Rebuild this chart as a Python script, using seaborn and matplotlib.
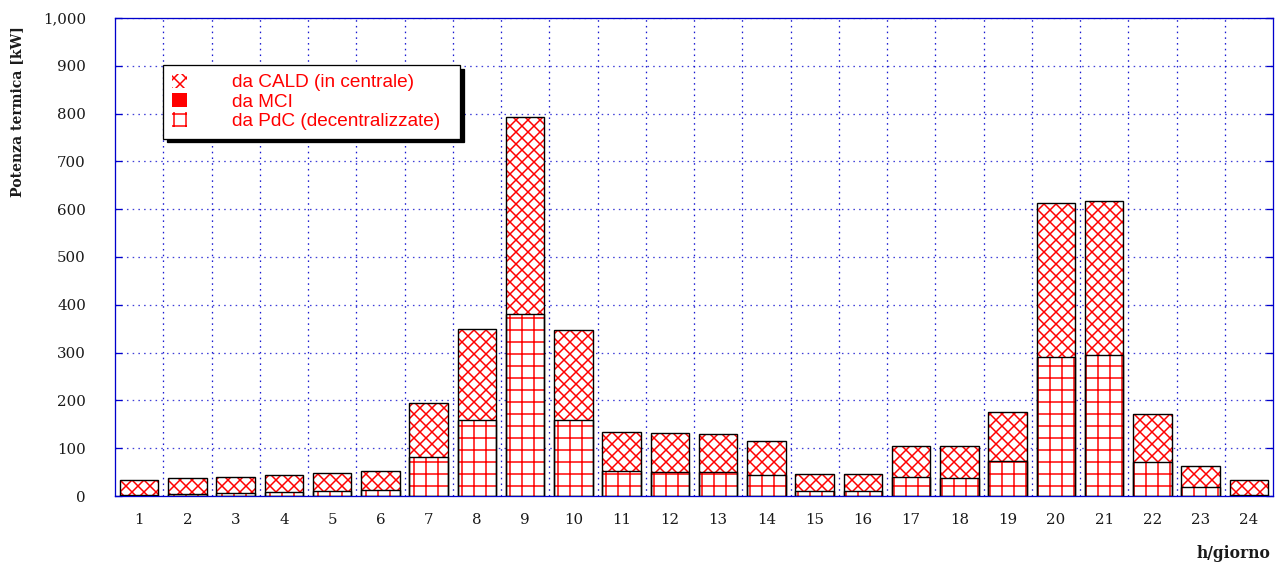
import matplotlib
matplotlib.use("Agg")
import matplotlib.pyplot as plt
from matplotlib.patches import Patch
from matplotlib.ticker import FuncFormatter, MultipleLocator, FixedLocator
import numpy as np
import seaborn as sns

# Hourly thermal power [kW] by source
hours = [str(h) for h in range(1, 25)]
pdc = [2, 5, 7, 9, 10, 13, 82, 160, 381, 158, 52, 51,
       51, 43, 10, 10, 40, 38, 73, 291, 295, 71, 19, 2]
mci = [0] * 24
cald = [31, 33, 33, 35, 38, 39, 112, 189, 411, 189, 81, 80,
        79, 72, 37, 37, 65, 66, 102, 322, 322, 100, 44, 31]

series_labels = ["da CALD (in centrale)", "da MCI", "da PdC (decentralizzate)"]

pdc_a = np.array(pdc, dtype=float)
mci_a = np.array(mci, dtype=float)
cald_a = np.array(cald, dtype=float)
lower = pdc_a + mci_a
total = lower + cald_a

sns.set_theme(style="white")
plt.rcParams["hatch.linewidth"] = 1.5
plt.rcParams["font.family"] = ["DejaVu Serif"]

W, H, DPI = 1287, 572, 72
fig = plt.figure(figsize=(W / DPI, H / DPI), dpi=DPI)
ax = fig.add_axes([115 / W, 1 - 496 / H, (1273 - 115) / W, (496 - 18) / H])

RED = "#ff0000"
BLUE = "#0000cc"

# Stacked layers: full height (CALD hatch), then MCI, then PdC on top of them
sns.barplot(x=hours, y=total, color="white", edgecolor=RED, hatch="xx",
            linewidth=0, width=0.8, saturation=1, ax=ax, zorder=2)
sns.barplot(x=hours, y=lower, color=RED, linewidth=0, width=0.8,
            saturation=1, ax=ax, zorder=3)
sns.barplot(x=hours, y=pdc_a, color="white", edgecolor=RED, hatch="+",
            linewidth=0, width=0.8, saturation=1, ax=ax, zorder=4)
# Black outlines for each segment
for vals in (total, pdc_a):
    sns.barplot(x=hours, y=vals, fill=False, color="black", linewidth=1.4,
                width=0.8, ax=ax, zorder=5)

ax.set_xlim(-0.5, 23.5)
ax.set_ylim(0, 1000)
ax.yaxis.set_major_locator(MultipleLocator(100))
ax.yaxis.set_major_formatter(FuncFormatter(lambda v, p: f"{int(v):,}"))
ax.xaxis.set_minor_locator(FixedLocator(np.arange(0.5, 23.5, 1.0)))

ax.grid(False)
ax.yaxis.grid(True, which="major", color=BLUE, linestyle=(0, (1.2, 3.2)),
              linewidth=1.3, alpha=0.75, zorder=0)
ax.xaxis.grid(True, which="minor", color=BLUE, linestyle=(0, (1.2, 3.2)),
              linewidth=1.3, alpha=0.9, zorder=0)
ax.set_axisbelow(True)

for s in ax.spines.values():
    s.set_color(BLUE)
    s.set_linewidth(1.3)

ax.tick_params(axis="y", which="major", direction="in", length=7, color=BLUE,
               width=1.3, left=True, right=True, labelsize=15, pad=29,
               labelcolor="#1a1a1a")
ax.tick_params(axis="x", which="major", length=0, labelsize=15, pad=17,
               labelcolor="#1a1a1a")
ax.tick_params(axis="x", which="minor", length=0)

ax.set_ylabel("")
ax.set_xlabel("")
fig.text(17 / W, 1 - 112 / H, "Potenza termica [kW]", rotation=90,
         ha="center", va="center", fontsize=14, fontweight="bold",
         color="#1a1a1a")
fig.text(1270 / W, 1 - 553 / H, "h/giorno", ha="right", va="center",
         fontsize=15.5, fontweight="bold", color="#1a1a1a")

handles = [
    Patch(facecolor="white", edgecolor=RED, hatch="xx", linewidth=0),
    Patch(facecolor=RED, edgecolor=RED, linewidth=0),
    Patch(facecolor="white", edgecolor=RED, hatch="+", linewidth=0),
]
leg = ax.legend(handles, series_labels, loc="upper left",
                bbox_to_anchor=(48 / 1158, (496 - 150) / 478,
                                297 / 1158, 85 / 478),
                mode="expand", borderaxespad=0,
                frameon=True, fancybox=False,
                shadow={"color": "black", "alpha": 1, "ox": 3.5, "oy": -3.5},
                edgecolor="black", framealpha=1,
                prop={"family": "Liberation Sans", "size": 19},
                handlelength=0.8, handleheight=0.8, handletextpad=2.4,
                labelspacing=0.08, borderpad=0.45)
leg.get_frame().set_linewidth(1.3)
for t in leg.get_texts():
    t.set_color(RED)
leg.set_zorder(10)

fig.savefig("out.png", dpi=DPI)
